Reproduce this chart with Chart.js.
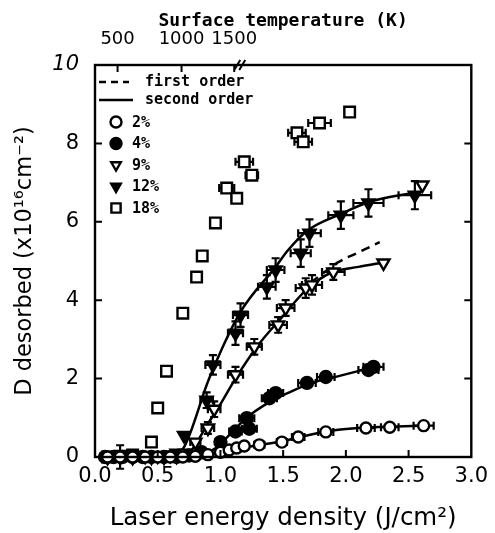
<!DOCTYPE html>
<html>
<head>
<meta charset="utf-8">
<script src="https://cdn.jsdelivr.net/npm/chart.js@4.4.1/dist/chart.umd.min.js"></script>
<style>
  html, body { margin: 0; padding: 0; background: #fff; }
</style>
</head>
<body>
<canvas id="chart" width="495" height="533"></canvas>
<script>
/* =========================
   DATA
========================= */

const X_TICKS = [0, 0.5, 1, 1.5, 2, 2.5, 3];
const Y_TICKS = [0, 2, 4, 6, 8, 10];
const TEMP_LABELS = ["500", "1000", "1500"];
const TEMP_POS = [0.18, 0.69, 1.11];
const BREAK_X = 1.15;

// 2 %
const P2_X = [0.1, 0.2, 0.3, 0.4, 0.5, 0.6, 0.7, 0.8, 0.9, 1.0, 1.07, 1.13, 1.19, 1.31, 1.49, 1.62, 1.84, 2.16, 2.35, 2.62];
const P2_Y = [0, 0, 0, 0, 0, 0, 0, 0.02, 0.06, 0.12, 0.18, 0.23, 0.28, 0.31, 0.38, 0.51, 0.64, 0.74, 0.76, 0.8];
const P2_XERR = [0, 0, 0, 0, 0, 0, 0, 0, 0, 0, 0, 0, 0.03, 0.04, 0.04, 0.05, 0.06, 0.07, 0.07, 0.08];

// 4 %
const P4_X = [0.08, 0.15, 0.22, 0.3, 0.38, 0.45, 0.55, 0.65, 0.75, 0.85, 1.0, 1.12, 1.21, 1.23, 1.39, 1.44, 1.69, 1.84, 2.18, 2.22];
const P4_Y = [0, 0, 0, 0, 0, 0, 0, 0, 0.04, 0.12, 0.38, 0.65, 0.99, 0.72, 1.5, 1.63, 1.89, 2.04, 2.22, 2.3];
const P4_XERR = [0.03, 0.03, 0.03, 0.03, 0.03, 0.03, 0.03, 0.03, 0.04, 0.04, 0.04, 0.05, 0.06, 0.06, 0.06, 0.06, 0.07, 0.07, 0.08, 0.08];

// 9 %
const P9_X = [0.1, 0.2, 0.3, 0.45, 0.55, 0.65, 0.72, 0.8, 0.9, 0.95, 1.12, 1.27, 1.46, 1.52, 1.68, 1.73, 1.9, 2.3, 2.61];
const P9_Y = [0, 0, 0, 0, 0, 0.02, 0.1, 0.38, 0.74, 1.22, 2.1, 2.81, 3.37, 3.8, 4.31, 4.39, 4.72, 4.95, 6.94];
const P9_XERR = [0, 0, 0, 0, 0, 0, 0, 0.04, 0.05, 0.05, 0.06, 0.06, 0.07, 0.07, 0.08, 0.08, 0.09, 0, 0];
const P9_YERR = [0, 0, 0, 0, 0, 0, 0, 0, 0.15, 0.2, 0.2, 0.2, 0.2, 0.2, 0.25, 0.25, 0.2, 0, 0];

// 12 %
const P12_X = [0.1, 0.2, 0.3, 0.4, 0.5, 0.6, 0.65, 0.71, 0.89, 0.94, 1.12, 1.16, 1.37, 1.44, 1.64, 1.71, 1.96, 2.18, 2.55];
const P12_Y = [0, 0, 0, 0.02, 0.03, 0.05, 0.1, 0.55, 1.45, 2.35, 3.16, 3.62, 4.34, 4.77, 5.2, 5.71, 6.17, 6.48, 6.68];
const P12_XERR = [0.03, 0.03, 0.03, 0.03, 0.03, 0.03, 0.03, 0, 0.05, 0.06, 0.06, 0.06, 0.07, 0.07, 0.08, 0.09, 0.1, 0.12, 0.13];
const P12_YERR = [0, 0.3, 0, 0, 0, 0, 0, 0, 0.2, 0.25, 0.3, 0.3, 0.3, 0.3, 0.35, 0.35, 0.35, 0.35, 0.36];

// 18 %
const P18_X = [0.1, 0.2, 0.3, 0.45, 0.5, 0.57, 0.7, 0.81, 0.855, 0.96, 1.05, 1.13, 1.19, 1.25, 1.61, 1.66, 1.79, 2.03];
const P18_Y = [0, 0.02, 0.05, 0.38, 1.25, 2.19, 3.67, 4.59, 5.13, 5.97, 6.86, 6.6, 7.53, 7.19, 8.27, 8.04, 8.52, 8.8];
const P18_XERR = [0, 0, 0, 0, 0, 0, 0, 0, 0, 0.04, 0.06, 0.04, 0.07, 0.05, 0.07, 0.07, 0.09, 0];

// fits (second order, solid)
const FIT2_X = [0.75, 0.9, 1.07, 1.3, 1.49, 1.65, 1.84, 2.1, 2.34, 2.62];
const FIT2_Y = [0, 0.05, 0.18, 0.3, 0.4, 0.52, 0.65, 0.74, 0.77, 0.8];
const FIT4_X = [0.8, 0.95, 1.07, 1.2, 1.39, 1.55, 1.73, 1.95, 2.23];
const FIT4_Y = [0, 0.2, 0.56, 0.98, 1.4, 1.65, 1.89, 2.07, 2.3];
const FIT9_X = [0.65, 0.75, 0.9, 1.0, 1.12, 1.3, 1.5, 1.68, 1.88, 2.1, 2.31];
const FIT9_Y = [0, 0.1, 0.85, 1.35, 2.0, 2.85, 3.6, 4.25, 4.7, 4.85, 4.97];
const FIT12_X = [0.6, 0.71, 0.91, 1.16, 1.44, 1.54, 1.7, 1.96, 2.18, 2.55];
const FIT12_Y = [0, 0.25, 2.0, 3.7, 4.85, 5.28, 5.79, 6.2, 6.5, 6.75];

// fit (first order, dashed)
const FIRST9_X = [1.72, 1.94, 2.1, 2.27];
const FIRST9_Y = [4.45, 4.97, 5.22, 5.48];

/* =========================
   HELPERS
========================= */

const FONT = "'DejaVu Sans', sans-serif";
const MONO = "'DejaVu Sans Mono', monospace";

function pts(xs, ys) {
  return xs.map((x, i) => ({ x: x, y: ys[i] }));
}

function fitLine(xs, ys, dashed) {
  return {
    data: pts(xs, ys),
    showLine: true,
    borderColor: "#000",
    borderWidth: 2.5,
    borderDash: dashed ? [9, 6] : [],
    pointRadius: 0,
    cubicInterpolationMode: "monotone",
    fill: false,
    order: 2
  };
}

function markers(label, xs, ys, style, filled, radius, xErr, yErr) {
  return {
    label: label,
    data: pts(xs, ys),
    showLine: false,
    pointStyle: style,
    rotation: style === "triangle" ? 180 : 0,
    pointRadius: radius,
    pointBorderWidth: 2.4,
    pointBorderColor: "#000",
    pointBackgroundColor: filled ? "#000" : "#fff",
    xErr: xErr || [],
    yErr: yErr || [],
    clip: false,
    order: 1
  };
}

/* =========================
   PLUGINS
========================= */

const errorBars = {
  id: "errorBars",
  beforeDatasetsDraw(chart) {
    const ctx = chart.ctx;
    const xs = chart.scales.x, ys = chart.scales.y;
    ctx.save();
    ctx.strokeStyle = "#000";
    ctx.lineWidth = 2.2;
    chart.data.datasets.forEach(ds => {
      if (!ds.xErr) return;
      ds.data.forEach((p, i) => {
        const px = xs.getPixelForValue(p.x);
        const py = ys.getPixelForValue(p.y);
        const ex = ds.xErr[i] || 0;
        const ey = ds.yErr[i] || 0;
        ctx.beginPath();
        if (ex > 0) {
          const a = xs.getPixelForValue(p.x - ex), b = xs.getPixelForValue(p.x + ex);
          ctx.moveTo(a, py); ctx.lineTo(b, py);
          ctx.moveTo(a, py - 4); ctx.lineTo(a, py + 4);
          ctx.moveTo(b, py - 4); ctx.lineTo(b, py + 4);
        }
        if (ey > 0) {
          const a = ys.getPixelForValue(p.y - ey), b = ys.getPixelForValue(p.y + ey);
          ctx.moveTo(px, a); ctx.lineTo(px, b);
          ctx.moveTo(px - 4, a); ctx.lineTo(px + 4, a);
          ctx.moveTo(px - 4, b); ctx.lineTo(px + 4, b);
        }
        ctx.stroke();
      });
    });
    ctx.restore();
  }
};

const frame = {
  id: "frame",
  afterDraw(chart) {
    const ctx = chart.ctx;
    const a = chart.chartArea;
    const xs = chart.scales.x, ys = chart.scales.y, x2 = chart.scales.x2;
    const t = 7;
    ctx.save();
    ctx.strokeStyle = "#000";
    ctx.lineWidth = 2.4;
    ctx.strokeRect(a.left, a.top, a.right - a.left, a.bottom - a.top);
    ctx.lineWidth = 2;
    ctx.beginPath();
    X_TICKS.slice(1, -1).forEach(v => {
      const px = xs.getPixelForValue(v);
      ctx.moveTo(px, a.bottom); ctx.lineTo(px, a.bottom - t);
    });
    Y_TICKS.slice(1, -1).forEach(v => {
      const py = ys.getPixelForValue(v);
      ctx.moveTo(a.left, py); ctx.lineTo(a.left + t, py);
      ctx.moveTo(a.right, py); ctx.lineTo(a.right - t, py);
    });
    TEMP_POS.forEach(v => {
      const px = x2.getPixelForValue(v);
      ctx.moveTo(px, a.top); ctx.lineTo(px, a.top + t);
    });
    // axis break
    const bx = x2.getPixelForValue(BREAK_X);
    ctx.moveTo(bx - 5, a.top + 5); ctx.lineTo(bx + 1, a.top - 5);
    ctx.moveTo(bx, a.top + 5); ctx.lineTo(bx + 6, a.top - 5);
    ctx.stroke();
    ctx.restore();
  }
};

const innerLegend = {
  id: "innerLegend",
  afterDraw(chart) {
    const ctx = chart.ctx;
    const a = chart.chartArea;
    const left = a.left;
    ctx.save();
    ctx.font = "bold 15px " + MONO;
    ctx.fillStyle = "#000";
    ctx.strokeStyle = "#000";
    ctx.textBaseline = "middle";
    ctx.lineWidth = 2.4;

    // line entries
    ctx.beginPath();
    ctx.setLineDash([7, 5]);
    ctx.moveTo(left + 4, a.top + 17); ctx.lineTo(left + 34, a.top + 17);
    ctx.stroke();
    ctx.setLineDash([]);
    ctx.beginPath();
    ctx.moveTo(left + 4, a.top + 35); ctx.lineTo(left + 38, a.top + 35);
    ctx.stroke();
    ctx.fillText("first order", left + 50, a.top + 17);
    ctx.fillText("second order", left + 50, a.top + 35);

    // marker entries
    const items = chart.data.datasets.filter(d => d.label);
    items.forEach((d, i) => {
      const y = a.top + 57 + 21.5 * i;
      ctx.fillStyle = d.pointBackgroundColor;
      ctx.strokeStyle = "#000";
      Chart.helpers.drawPoint(ctx, {
        pointStyle: d.pointStyle,
        radius: d.pointStyle === "rect" ? 6.5 : 5.5,
        rotation: d.rotation,
        borderWidth: 2.2
      }, left + 21, y);
      ctx.fillStyle = "#000";
      ctx.fillText(d.label, left + 37, y + 1);
    });
    ctx.restore();
  }
};

/* =========================
   CHART
========================= */

const datasets = [
  markers("2%", P2_X, P2_Y, "circle", false, 5.5, P2_XERR),
  markers("4%", P4_X, P4_Y, "circle", true, 6, P4_XERR),
  markers("9%", P9_X, P9_Y, "triangle", false, 7, P9_XERR, P9_YERR),
  markers("12%", P12_X, P12_Y, "triangle", true, 7, P12_XERR, P12_YERR),
  markers("18%", P18_X, P18_Y, "rect", false, 7.5, P18_XERR),
  fitLine(FIT2_X, FIT2_Y, false),
  fitLine(FIT4_X, FIT4_Y, false),
  fitLine(FIT9_X, FIT9_Y, false),
  fitLine(FIT12_X, FIT12_Y, false),
  fitLine(FIRST9_X, FIRST9_Y, true)
];

new Chart(document.getElementById("chart"), {
  type: "scatter",
  data: { datasets: datasets },
  plugins: [errorBars, frame, innerLegend],
  options: {
    responsive: false,
    animation: false,
    devicePixelRatio: 1,
    layout: { padding: { left: 0, right: 21, top: 0, bottom: 0 } },
    plugins: {
      legend: { display: false },
      tooltip: { enabled: false }
    },
    scales: {
      x: {
        type: "linear",
        position: "bottom",
        min: 0,
        max: 3,
        afterBuildTicks: s => { s.ticks = X_TICKS.map(v => ({ value: v })); },
        afterFit: s => { s.height = 76; },
        grid: { display: false, drawTicks: false },
        border: { display: false },
        ticks: {
          color: "#000",
          padding: 7,
          font: { family: FONT, size: 21 },
          callback: v => v.toFixed(1)
        },
        title: {
          display: true,
          text: "Laser energy density (J/cm²)",
          color: "#000",
          font: { family: FONT, size: 24.5 },
          padding: { top: 0, bottom: 0 }
        }
      },
      x2: {
        type: "linear",
        position: "top",
        min: 0,
        max: 3,
        afterBuildTicks: s => { s.ticks = TEMP_POS.map(v => ({ value: v })); },
        afterFit: s => { s.height = 65; },
        grid: { display: false, drawTicks: false },
        border: { display: false },
        ticks: {
          color: "#000",
          padding: 15,
          maxRotation: 0,
          autoSkip: false,
          font: { family: FONT, size: 18 },
          callback: (v, i) => TEMP_LABELS[i]
        },
        title: {
          display: true,
          text: "Surface temperature (K)",
          color: "#000",
          font: { family: MONO, size: 18, weight: "bold" },
          padding: { top: 11, bottom: 0 }
        }
      },
      y: {
        type: "linear",
        min: 0,
        max: 10,
        afterBuildTicks: s => { s.ticks = Y_TICKS.map(v => ({ value: v })); },
        afterFit: s => { s.width = 95; },
        grid: { display: false, drawTicks: false },
        border: { display: false },
        ticks: {
          color: "#000",
          padding: 16,
          font: ctx => ({
            family: FONT,
            size: 21,
            style: ctx.tick && ctx.tick.value === 10 ? "italic" : "normal"
          })
        },
        title: {
          display: true,
          text: "D desorbed (x10¹⁶cm⁻²)",
          color: "#000",
          font: { family: FONT, size: 22.5 },
          padding: { top: 12, bottom: 0 }
        }
      }
    }
  }
});
</script>
</body>
</html>
